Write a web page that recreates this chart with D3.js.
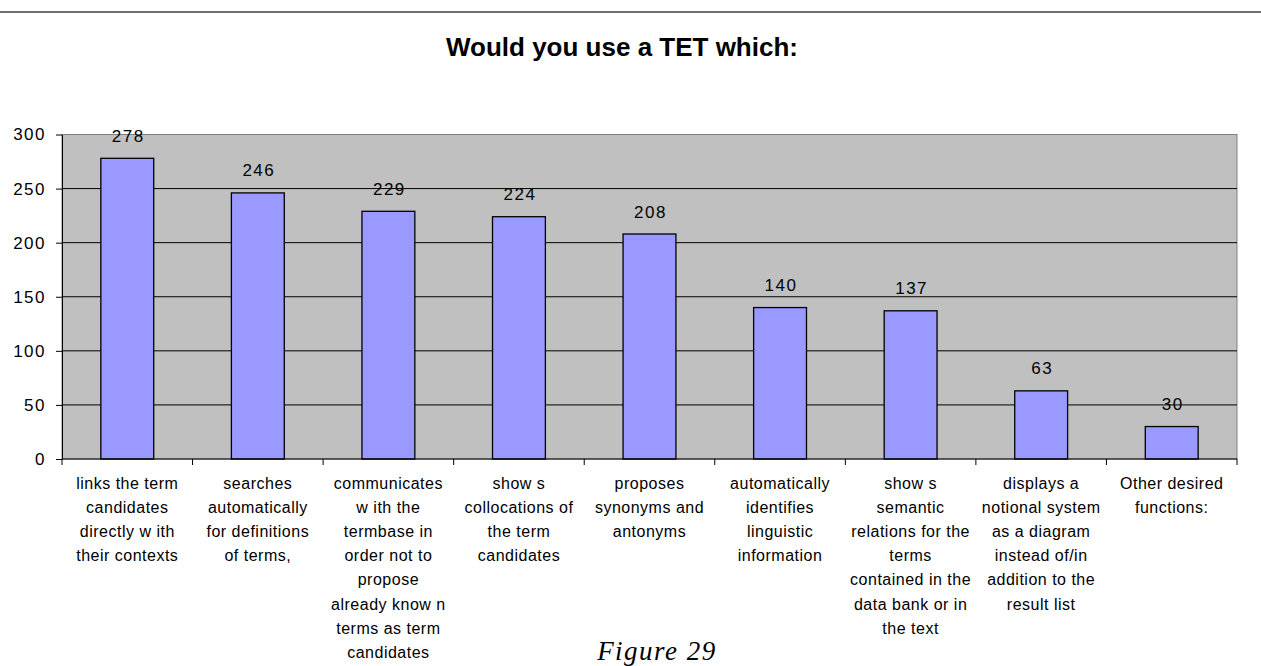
<!DOCTYPE html>
<html>
<head>
<meta charset="utf-8">
<script src="https://cdn.jsdelivr.net/npm/d3@7"></script>
<style>
  html, body { margin: 0; padding: 0; background: #fff; }
  svg { display: block; }
  text { font-family: "Liberation Sans", Arial, sans-serif; fill: #000; }
</style>
</head>
<body>
<svg id="chart" width="1261" height="666"></svg>
<script>
// Survey answers: "Would you use a TET which:"
const categories = [
  ["links the term", "candidates", "directly w ith", "their contexts"],
  ["searches", "automatically", "for definitions", "of terms,"],
  ["communicates", "w ith the", "termbase in", "order not to", "propose", "already know n", "terms as term", "candidates"],
  ["show s", "collocations of", "the term", "candidates"],
  ["proposes", "synonyms and", "antonyms"],
  ["automatically", "identifies", "linguistic", "information"],
  ["show s", "semantic", "relations for the", "terms", "contained in the", "data bank or in", "the text"],
  ["displays a", "notional system", "as a diagram", "instead of/in", "addition to the", "result list"],
  ["Other desired", "functions:"]
];
const values = [278, 246, 229, 224, 208, 140, 137, 63, 30];
const yTicks = [0, 50, 100, 150, 200, 250, 300];
const title = "Would you use a TET which:";
const caption = "Figure 29";

const svg = d3.select("#chart");
const plot = { left: 62, right: 1237, top: 134.5, bottom: 459 };

const keys = categories.map((c, i) => i);
const x = d3.scaleBand().domain(keys).range([plot.left, plot.right]).paddingInner(0).paddingOuter(0);
const y = d3.scaleLinear().domain([0, 300]).range([plot.bottom, plot.top]);
const barW = x.bandwidth() * 0.405;

// rule across the top of the page
svg.append("line")
  .attr("x1", 0).attr("x2", 1261).attr("y1", 12).attr("y2", 12)
  .attr("stroke", "#404040").attr("stroke-width", 1.5);

// title
svg.append("text")
  .attr("x", 622).attr("y", 56)
  .attr("text-anchor", "middle")
  .style("font-size", "26px").style("font-weight", "bold")
  .text(title);

// plot background
svg.append("rect")
  .attr("x", plot.left).attr("y", plot.top)
  .attr("width", plot.right - plot.left).attr("height", plot.bottom - plot.top)
  .attr("fill", "#c0c0c0").attr("stroke", "#808080").attr("stroke-width", 1);

// horizontal gridlines
svg.append("g")
  .selectAll("line")
  .data(yTicks.filter(t => t > 0 && t < 300))
  .join("line")
  .attr("x1", plot.left).attr("x2", plot.right)
  .attr("y1", d => y(d)).attr("y2", d => y(d))
  .attr("stroke", "#000").attr("stroke-width", 1);

// y axis
const yAxis = svg.append("g")
  .attr("transform", `translate(${plot.left},0)`)
  .call(d3.axisLeft(y).tickValues(yTicks).tickSize(6).tickPadding(10).tickSizeOuter(0));
yAxis.select(".domain").attr("stroke", "#000");
yAxis.selectAll(".tick line").attr("stroke", "#000");
yAxis.attr("font-family", null).attr("font-size", null);
yAxis.selectAll(".tick text")
  .style("font-size", "17px").style("letter-spacing", "1.5px");

// bars
svg.append("g")
  .selectAll("rect")
  .data(values)
  .join("rect")
  .attr("x", (d, i) => x(i) + (x.bandwidth() - barW) / 2)
  .attr("y", d => y(d))
  .attr("width", barW)
  .attr("height", d => y(0) - y(d))
  .attr("fill", "#9999ff")
  .attr("stroke", "#000").attr("stroke-width", 1.3);

// value labels
svg.append("g")
  .selectAll("text")
  .data(values)
  .join("text")
  .attr("x", (d, i) => x(i) + x.bandwidth() / 2 + 1)
  .attr("y", d => y(d) - 16.5)
  .attr("text-anchor", "middle")
  .style("font-size", "17px").style("letter-spacing", "1.5px")
  .text(d => d);

// x axis with ticks between categories
const xAxisG = svg.append("g");
xAxisG.append("line")
  .attr("x1", plot.left).attr("x2", plot.right)
  .attr("y1", plot.bottom).attr("y2", plot.bottom)
  .attr("stroke", "#000").attr("stroke-width", 1);
xAxisG.selectAll("line.tk")
  .data(keys.concat([keys.length]))
  .join("line").attr("class", "tk")
  .attr("x1", d => d < keys.length ? x(d) : plot.right)
  .attr("x2", d => d < keys.length ? x(d) : plot.right)
  .attr("y1", plot.bottom).attr("y2", plot.bottom + 6)
  .attr("stroke", "#000").attr("stroke-width", 1);

// category labels, one tspan per line
const lineH = 24.2;
svg.append("g")
  .selectAll("text")
  .data(categories)
  .join("text")
  .attr("text-anchor", "middle")
  .style("font-size", "16px").style("letter-spacing", "0.5px")
  .each(function (lines, i) {
    d3.select(this).selectAll("tspan")
      .data(lines)
      .join("tspan")
      .attr("x", x(i) + x.bandwidth() / 2)
      .attr("y", (l, j) => 488.5 + j * lineH)
      .text(l => l);
  });

// caption
svg.append("text")
  .attr("x", 657).attr("y", 660)
  .attr("text-anchor", "middle")
  .style("font-family", "'Liberation Serif', 'Times New Roman', serif")
  .style("font-style", "italic").style("font-size", "27px")
  .style("letter-spacing", "1.5px")
  .text(caption);
</script>
</body>
</html>
